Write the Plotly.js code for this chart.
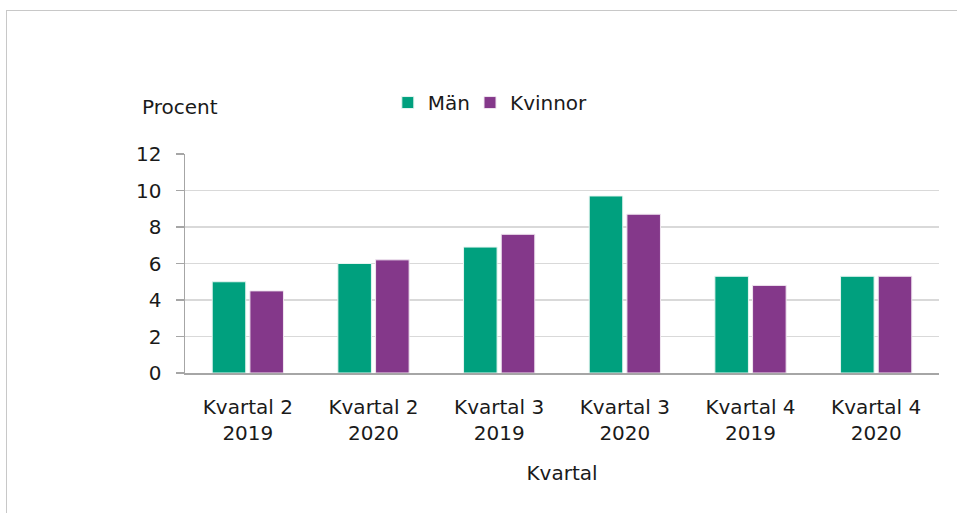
<!DOCTYPE html>
<html><head><meta charset="utf-8">
<script src="https://cdn.plot.ly/plotly-3.0.1.min.js"></script>
<style>
html,body{margin:0;padding:0;background:#fff;overflow:hidden;}
#frame{position:absolute;left:6px;top:10px;width:1000px;height:600px;border:1.5px solid #c8c8c8;box-sizing:border-box;}
#chart{position:absolute;left:0;top:0;width:957px;height:513px;}
</style></head>
<body>
<div id="frame"></div>
<div id="chart"></div>
<script>
const categories = ["Kvartal 2<br>2019","Kvartal 2<br>2020","Kvartal 3<br>2019","Kvartal 3<br>2020","Kvartal 4<br>2019","Kvartal 4<br>2020"];
const man = [5.0, 6.0, 6.9, 9.7, 5.3, 5.3];
const kvinnor = [4.5, 6.2, 7.6, 8.7, 4.8, 5.3];
const yTicks = [0, 2, 4, 6, 8, 10, 12];
const seriesNames = ["Män", "Kvinnor"];

const font = {family: "DejaVu Sans, Verdana, sans-serif", size: 20, color: "#1a1a1a"};
const traces = [
  {type: "bar", name: seriesNames[0], x: categories, y: man, legend: "legend",
   marker: {color: "#00A07E", line: {color: "#e6f5f1", width: 1}}},
  {type: "bar", name: seriesNames[1], x: categories, y: kvinnor, legend: "legend2",
   marker: {color: "#84388A", line: {color: "#f0e6f0", width: 1}}}
];
const legendBase = {orientation: "h", y: 1.235, yanchor: "middle", xanchor: "left",
                    font: font, itemwidth: 30, bgcolor: "rgba(0,0,0,0)"};
const layout = {
  width: 957, height: 513,
  margin: {l: 185, r: 18, t: 154, b: 140},
  paper_bgcolor: "rgba(0,0,0,0)", plot_bgcolor: "rgba(0,0,0,0)",
  font: font,
  barmode: "group", bargap: 0.40, bargroupgap: 0.11,
  showlegend: true,
  legend: Object.assign({}, legendBase, {x: 0.269}),
  legend2: Object.assign({}, legendBase, {x: 0.378}),
  xaxis: {type: "category", showline: true, linecolor: "#a6a6a6", linewidth: 1.5,
          ticks: "", tickfont: font, ticklabelstandoff: 15,
          title: {text: "Kvartal", font: font, standoff: 22}},
  yaxis: {range: [0, 12], tickvals: yTicks, ticktext: yTicks.map(String),
          showline: true, linecolor: "#a6a6a6", linewidth: 1.5,
          ticks: "outside", ticklen: 8, tickcolor: "#a6a6a6", tickwidth: 1.5,
          ticklabelstandoff: 10, tickfont: font,
          showgrid: true, gridcolor: "#d9d9d9", gridwidth: 1.5, zeroline: false},
  annotations: [{text: "Procent", xref: "paper", yref: "paper", x: -0.007, y: 1.215,
                 xanchor: "center", yanchor: "middle", showarrow: false, font: font}]
};
Plotly.newPlot("chart", traces, layout, {displayModeBar: false, staticPlot: true});
</script>
</body></html>
